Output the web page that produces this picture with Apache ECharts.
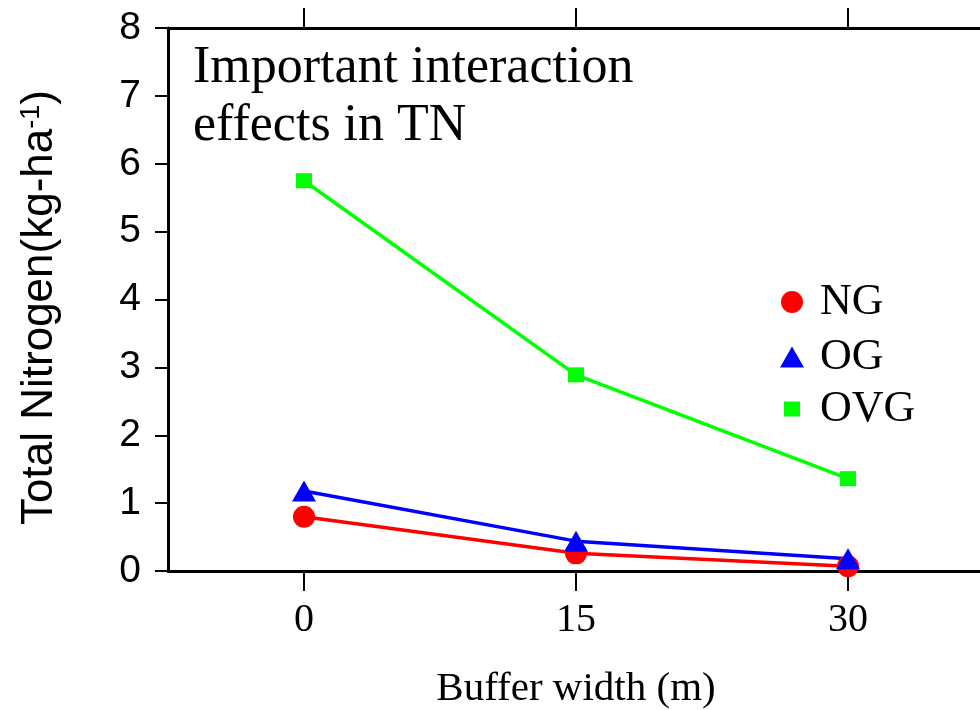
<!DOCTYPE html>
<html>
<head>
    <meta charset="utf-8" />
    <title>Total Nitrogen by buffer width</title>
    <script src="https://cdn.jsdelivr.net/npm/echarts@6/dist/echarts.min.js"></script>
    <style>
        body { margin: 0; background: #ffffff; }
        #main { width: 980px; height: 710px; }
    </style>
</head>
<body>
<div id="main"></div>
<script type="text/javascript">
    // buffer widths (m)
    var widths = ['0', '15', '30'];
    // total nitrogen, kg/ha
    var ngValues = [0.80, 0.26, 0.07];
    var ogValues = [1.18, 0.44, 0.18];
    var ovgValues = [5.75, 2.89, 1.36];

    var serif = 'Liberation Serif';
    var sans = 'Liberation Sans';

    var myChart = echarts.init(document.getElementById('main'));

    // one legend per entry so each icon keeps its own size
    function oneLegend(name, icon, w, h, left, top) {
        return {
            data: [name],
            icon: icon,
            itemWidth: w,
            itemHeight: h,
            left: left,
            top: top,
            padding: 0,
            selectedMode: false,
            textStyle: {
                fontFamily: serif,
                fontSize: 44,
                lineHeight: 44,
                color: '#000',
                padding: [0, 0, 0, 820 - left - w - 5]
            }
        };
    }

    var tick = function (len) {
        return { show: true, inside: false, alignWithLabel: true, length: len, lineStyle: { color: '#000', width: 2 } };
    };

    var option = {
        backgroundColor: '#ffffff',
        animation: false,
        title: {
            text: 'Important interaction\neffects in TN',
            left: 188,
            top: 34,
            textStyle: {
                fontFamily: serif,
                fontSize: 52,
                fontWeight: 'normal',
                lineHeight: 58,
                color: '#000'
            }
        },
        legend: [
            oneLegend('NG', 'circle', 22, 22, 781, 280),
            oneLegend('OG', 'triangle', 24, 21, 780, 335),
            oneLegend('OVG', 'rect', 16, 15, 784, 387)
        ],
        grid: {
            left: 168,
            top: 28,
            bottom: 139,
            right: -4,
            containLabel: false,
            outerBoundsMode: 'none'
        },
        xAxis: [
            {
                type: 'category',
                data: widths,
                boundaryGap: true,
                position: 'bottom',
                name: 'Buffer width (m)',
                nameLocation: 'middle',
                nameGap: 98,
                nameTextStyle: { fontFamily: serif, fontSize: 41, color: '#000' },
                axisLine: { show: true, onZero: false, lineStyle: { color: '#000', width: 3 } },
                axisTick: tick(20),
                axisLabel: { fontFamily: serif, fontSize: 40, color: '#000', margin: 29 },
                splitLine: { show: false }
            },
            {
                type: 'category',
                data: widths,
                boundaryGap: true,
                position: 'top',
                axisLine: { show: true, onZero: false, lineStyle: { color: '#000', width: 3 } },
                axisTick: tick(20),
                axisLabel: { show: false },
                splitLine: { show: false }
            }
        ],
        yAxis: {
            type: 'value',
            min: 0,
            max: 8,
            interval: 1,
            name: 'Total Nitrogen(kg-ha{sup|-1})',
            nameLocation: 'middle',
            nameGap: 106,
            nameTextStyle: {
                fontFamily: sans,
                fontSize: 44,
                color: '#000',
                padding: [0, 16, 0, 0],
                rich: {
                    sup: { fontFamily: sans, fontSize: 27, color: '#000', verticalAlign: 'top', padding: [0, 0, 16, 0] }
                }
            },
            axisLine: { show: true, onZero: false, lineStyle: { color: '#000', width: 3 } },
            axisTick: tick(13),
            axisLabel: { fontFamily: sans, fontSize: 39, color: '#000', margin: 27 },
            splitLine: { show: false }
        },
        series: [
            {
                name: 'NG',
                type: 'line',
                data: ngValues,
                symbol: 'circle',
                symbolSize: 22,
                showAllSymbol: true,
                color: '#ff0000',
                lineStyle: { color: '#ff0000', width: 3.5 },
                itemStyle: { color: '#ff0000' }
            },
            {
                name: 'OG',
                type: 'line',
                data: ogValues,
                symbol: 'triangle',
                symbolSize: [24, 21],
                color: '#0000ff',
                lineStyle: { color: '#0000ff', width: 3.5 },
                itemStyle: { color: '#0000ff' }
            },
            {
                name: 'OVG',
                type: 'line',
                data: ovgValues,
                symbol: 'rect',
                symbolSize: [16, 15],
                color: '#00ff00',
                lineStyle: { color: '#00ff00', width: 3.5 },
                itemStyle: { color: '#00ff00' }
            }
        ]
    };

    myChart.setOption(option);
</script>
</body>
</html>
